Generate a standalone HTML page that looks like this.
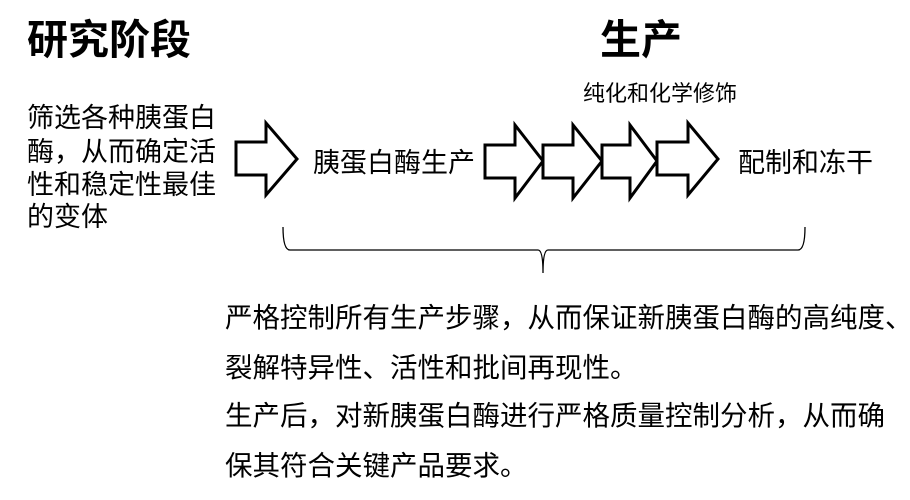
<!DOCTYPE html>
<html><head><meta charset="utf-8"><style>
html,body{margin:0;padding:0;background:#fff;}
svg{display:block;}
text{font-family:"Liberation Sans","Noto Sans CJK SC",sans-serif;fill:#000;}
</style></head><body>
<svg width="910" height="500" viewBox="0 0 910 500" xmlns="http://www.w3.org/2000/svg">
<text x="27" y="54" font-size="41" font-weight="bold">研究阶段</text>
<text x="641" y="54" font-size="41" font-weight="bold" text-anchor="middle">生产</text>
<text x="583" y="101" font-size="22">纯化和化学修饰</text>
<g font-size="27">
<text x="27" y="127">筛选各种胰蛋白</text>
<text x="27" y="161">酶，从而确定活</text>
<text x="27" y="194">性和稳定性最佳</text>
<text x="27" y="226">的变体</text>
</g>
<g fill="#fff" stroke="#000" stroke-width="3" stroke-linejoin="miter">
<polygon points="236,142 266,142 266,123 297,159 266,195 266,175 236,175"/>
<polygon points="485,145 515,145 515,125 543,161 515,198 515,178 485,178"/>
<polygon points="543,145 573,145 573,125 602,161 573,198 573,178 543,178"/>
<polygon points="602,145 630,145 630,125 657,161 630,198 630,178 602,178"/>
<polygon points="657,142 688,142 688,123 718,159 688,195 688,175 657,175"/>
</g>
<text x="313" y="172" font-size="27">胰蛋白酶生产</text>
<text x="738" y="172" font-size="27">配制和冻干</text>
<path d="M283,227 Q283,250 290,250 L538,250 Q543,250 543,273 Q543,250 548,250 L798,250 Q805,250 805,227" fill="none" stroke="#000" stroke-width="1.3"/>
<g font-size="27.5">
<text x="225" y="327">严格控制所有生产步骤，从而保证新胰蛋白酶的高纯度、</text>
<text x="225" y="377">裂解特异性、活性和批间再现性。</text>
<text x="225" y="425">生产后，对新胰蛋白酶进行严格质量控制分析，从而确</text>
<text x="225" y="475">保其符合关键产品要求。</text>
</g>
</svg>
</body></html>
